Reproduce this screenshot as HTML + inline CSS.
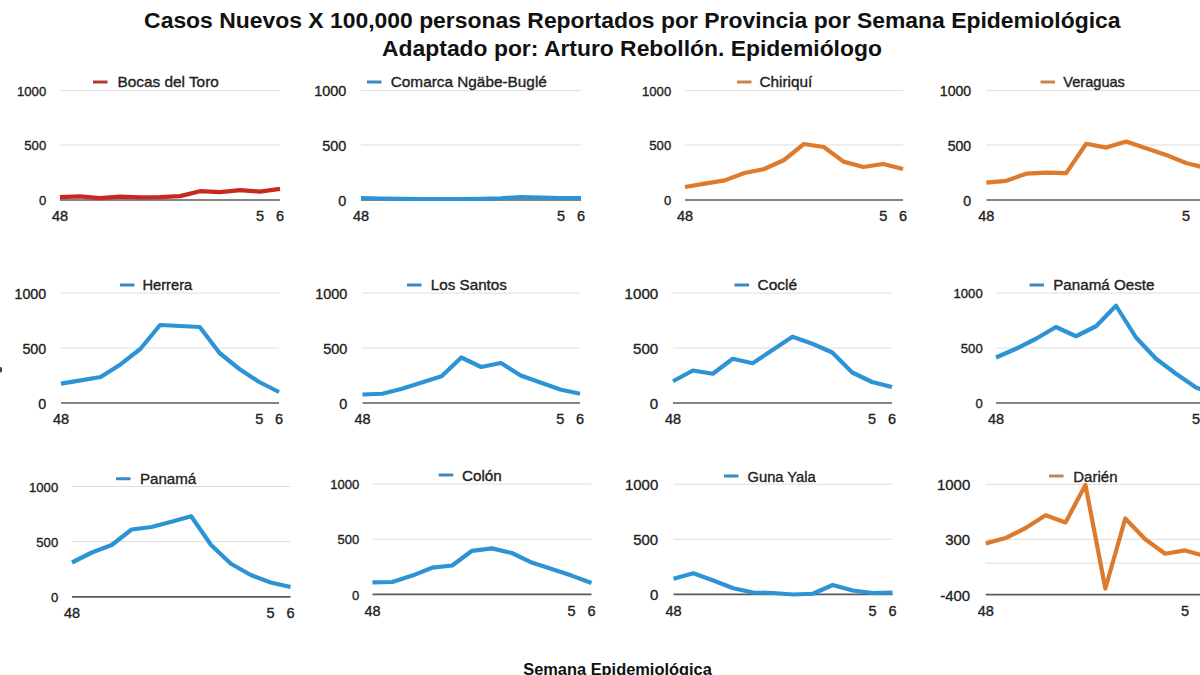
<!DOCTYPE html>
<html><head><meta charset="utf-8"><style>
html,body{margin:0;padding:0;background:#fff;width:1200px;height:675px;overflow:hidden}
svg{display:block}
text{font-family:"Liberation Sans",sans-serif}
</style></head><body>
<svg width="1200" height="675" viewBox="0 0 1200 675">
<rect width="1200" height="675" fill="#fff"/>
<g fill="#111" font-weight="bold" text-anchor="middle">
<text x="632.3" y="27.6" font-size="22.92">Casos Nuevos X 100,000 personas Reportados por Provincia por Semana Epidemiológica</text>
<text x="632" y="55.9" font-size="22.88">Adaptado por: Arturo Rebollón. Epidemiólogo</text>
<text x="617.5" y="674.6" font-size="16.4">Semana Epidemiológica</text>
</g>
<ellipse cx="0.6" cy="369.8" rx="1.6" ry="2.8" fill="#444"/>
<line x1="60" y1="90.6" x2="280" y2="90.6" stroke="#dedede" stroke-width="1"/>
<line x1="60" y1="145" x2="280" y2="145" stroke="#dedede" stroke-width="1"/>
<line x1="60" y1="200" x2="280" y2="200" stroke="#5a5a5a" stroke-width="1.7"/>
<g font-size="13.1" fill="#222" stroke="#222" stroke-width="0.35" text-anchor="end">
<text x="46.2" y="95.89">1000</text>
<text x="46.2" y="150.29">500</text>
<text x="46.2" y="205.29">0</text>
</g>
<g font-size="14.5" fill="#222" stroke="#222" stroke-width="0.35" text-anchor="middle">
<text x="60" y="221.2">48</text>
<text x="260" y="221.2">5</text>
<text x="280" y="221.2">6</text>
</g>
<polyline points="60,197.1 80,196.3 100,198.1 120,196.7 140,197.3 160,197.1 180,196.1 200,191.2 220,192.2 240,190.2 260,191.6 280,188.8" fill="none" stroke="#c7291f" stroke-width="4.2" stroke-linejoin="round" stroke-linecap="butt"/>
<line x1="93" y1="82" x2="107.5" y2="82" stroke="#b23a30" stroke-width="3"/>
<text x="117.4" y="87.1" font-size="15.38" fill="#222" stroke="#222" stroke-width="0.35">Bocas del Toro</text>
<line x1="361" y1="90.6" x2="581" y2="90.6" stroke="#dedede" stroke-width="1"/>
<line x1="361" y1="145" x2="581" y2="145" stroke="#dedede" stroke-width="1"/>
<line x1="361" y1="200" x2="581" y2="200" stroke="#5a5a5a" stroke-width="1.7"/>
<g font-size="14.4" fill="#222" stroke="#222" stroke-width="0.35" text-anchor="end">
<text x="346.2" y="96.36">1000</text>
<text x="346.2" y="150.76">500</text>
<text x="346.2" y="205.76">0</text>
</g>
<g font-size="14.5" fill="#222" stroke="#222" stroke-width="0.35" text-anchor="middle">
<text x="361" y="221.2">48</text>
<text x="561" y="221.2">5</text>
<text x="581" y="221.2">6</text>
</g>
<polyline points="361,198.2 381,198.5 401,198.8 421,199 441,199 461,199 481,198.8 501,198.3 521,197 541,197.5 561,198 581,198" fill="none" stroke="#2d93d5" stroke-width="4.2" stroke-linejoin="round" stroke-linecap="butt"/>
<line x1="367" y1="82" x2="381.5" y2="82" stroke="#3a8ac2" stroke-width="3"/>
<text x="390.75" y="87.1" font-size="15.35" fill="#222" stroke="#222" stroke-width="0.35">Comarca Ngäbe-Buglé</text>
<line x1="685" y1="90.6" x2="903" y2="90.6" stroke="#dedede" stroke-width="1"/>
<line x1="685" y1="145" x2="903" y2="145" stroke="#dedede" stroke-width="1"/>
<line x1="685" y1="200" x2="903" y2="200" stroke="#5a5a5a" stroke-width="1.7"/>
<g font-size="13.1" fill="#222" stroke="#222" stroke-width="0.35" text-anchor="end">
<text x="671.2" y="95.89">1000</text>
<text x="671.2" y="150.29">500</text>
<text x="671.2" y="205.29">0</text>
</g>
<g font-size="14.5" fill="#222" stroke="#222" stroke-width="0.35" text-anchor="middle">
<text x="685" y="221.2">48</text>
<text x="883.18" y="221.2">5</text>
<text x="903" y="221.2">6</text>
</g>
<polyline points="685,187 704.82,183.6 724.64,180.4 744.45,173 764.27,169 784.09,160 803.91,144 823.73,147 843.55,161.6 863.36,167 883.18,164 903,169" fill="none" stroke="#dd7a2c" stroke-width="4.2" stroke-linejoin="round" stroke-linecap="butt"/>
<line x1="737" y1="82" x2="751.5" y2="82" stroke="#c8844c" stroke-width="3"/>
<text x="759.5" y="87.1" font-size="15.3" fill="#222" stroke="#222" stroke-width="0.35">Chiriquí</text>
<line x1="986.3" y1="90.6" x2="1206" y2="90.6" stroke="#dedede" stroke-width="1"/>
<line x1="986.3" y1="145" x2="1206" y2="145" stroke="#dedede" stroke-width="1"/>
<line x1="986.3" y1="200" x2="1206" y2="200" stroke="#5a5a5a" stroke-width="1.7"/>
<g font-size="14.1" fill="#222" stroke="#222" stroke-width="0.35" text-anchor="end">
<text x="971.2" y="96.25">1000</text>
<text x="971.2" y="150.65">500</text>
<text x="971.2" y="205.65">0</text>
</g>
<g font-size="14.5" fill="#222" stroke="#222" stroke-width="0.35" text-anchor="middle">
<text x="986.3" y="221.2">48</text>
<text x="1186.03" y="221.2">5</text>
<text x="1206" y="221.2">6</text>
</g>
<polyline points="986.3,182.7 1006.27,180.8 1026.25,173.7 1046.22,172.6 1066.19,173.1 1086.16,143.8 1106.14,147.6 1126.11,141.5 1146.08,148.2 1166.05,154.9 1186.03,163 1206,168" fill="none" stroke="#dd7a2c" stroke-width="4.2" stroke-linejoin="round" stroke-linecap="butt"/>
<line x1="1040.5" y1="82" x2="1055" y2="82" stroke="#c8844c" stroke-width="3"/>
<text x="1063.25" y="87.1" font-size="14.6" fill="#222" stroke="#222" stroke-width="0.35">Veraguas</text>
<line x1="61" y1="293" x2="279" y2="293" stroke="#dedede" stroke-width="1"/>
<line x1="61" y1="348" x2="279" y2="348" stroke="#dedede" stroke-width="1"/>
<line x1="61" y1="403" x2="279" y2="403" stroke="#5a5a5a" stroke-width="1.7"/>
<g font-size="14.25" fill="#222" stroke="#222" stroke-width="0.35" text-anchor="end">
<text x="46.2" y="298.7">1000</text>
<text x="46.2" y="353.7">500</text>
<text x="46.2" y="408.7">0</text>
</g>
<g font-size="14.5" fill="#222" stroke="#222" stroke-width="0.35" text-anchor="middle">
<text x="61" y="424.2">48</text>
<text x="259.18" y="424.2">5</text>
<text x="279" y="424.2">6</text>
</g>
<polyline points="61,383.6 80.82,380.4 100.64,377 120.45,364.4 140.27,349 160.09,325 179.91,326 199.73,327 219.55,353 239.36,369 259.18,382 279,392" fill="none" stroke="#2d93d5" stroke-width="4.2" stroke-linejoin="round" stroke-linecap="butt"/>
<line x1="120" y1="285" x2="134.5" y2="285" stroke="#3a8ac2" stroke-width="3"/>
<text x="142.5" y="289.7" font-size="14.66" fill="#222" stroke="#222" stroke-width="0.35">Herrera</text>
<line x1="362.5" y1="293" x2="580" y2="293" stroke="#dedede" stroke-width="1"/>
<line x1="362.5" y1="348" x2="580" y2="348" stroke="#dedede" stroke-width="1"/>
<line x1="362.5" y1="403" x2="580" y2="403" stroke="#5a5a5a" stroke-width="1.7"/>
<g font-size="14.4" fill="#222" stroke="#222" stroke-width="0.35" text-anchor="end">
<text x="347.2" y="298.76">1000</text>
<text x="347.2" y="353.76">500</text>
<text x="347.2" y="408.76">0</text>
</g>
<g font-size="14.5" fill="#222" stroke="#222" stroke-width="0.35" text-anchor="middle">
<text x="362.5" y="424.2">48</text>
<text x="560.23" y="424.2">5</text>
<text x="580" y="424.2">6</text>
</g>
<polyline points="362.5,394.5 382.27,393.75 402.05,388.75 421.82,382.5 441.59,376.25 461.36,357.5 481.14,367 500.91,363 520.68,375.5 540.45,382.5 560.23,389.5 580,393.75" fill="none" stroke="#2d93d5" stroke-width="4.2" stroke-linejoin="round" stroke-linecap="butt"/>
<line x1="407" y1="285" x2="421.5" y2="285" stroke="#3a8ac2" stroke-width="3"/>
<text x="430.75" y="289.7" font-size="15.23" fill="#222" stroke="#222" stroke-width="0.35">Los Santos</text>
<line x1="673" y1="293" x2="892" y2="293" stroke="#dedede" stroke-width="1"/>
<line x1="673" y1="348" x2="892" y2="348" stroke="#dedede" stroke-width="1"/>
<line x1="673" y1="403" x2="892" y2="403" stroke="#5a5a5a" stroke-width="1.7"/>
<g font-size="15.1" fill="#222" stroke="#222" stroke-width="0.35" text-anchor="end">
<text x="658.2" y="299.01">1000</text>
<text x="658.2" y="354.01">500</text>
<text x="658.2" y="409.01">0</text>
</g>
<g font-size="14.5" fill="#222" stroke="#222" stroke-width="0.35" text-anchor="middle">
<text x="673" y="424.2">48</text>
<text x="872.09" y="424.2">5</text>
<text x="892" y="424.2">6</text>
</g>
<polyline points="673,381.25 692.91,370.5 712.82,373.75 732.73,358.75 752.64,363.25 772.55,350 792.45,336.75 812.36,343.75 832.27,352.5 852.18,372.5 872.09,382 892,387" fill="none" stroke="#2d93d5" stroke-width="4.2" stroke-linejoin="round" stroke-linecap="butt"/>
<line x1="734.5" y1="285" x2="749" y2="285" stroke="#3a8ac2" stroke-width="3"/>
<text x="757.5" y="289.7" font-size="15.53" fill="#222" stroke="#222" stroke-width="0.35">Coclé</text>
<line x1="996" y1="293" x2="1216" y2="293" stroke="#dedede" stroke-width="1"/>
<line x1="996" y1="348" x2="1216" y2="348" stroke="#dedede" stroke-width="1"/>
<line x1="996" y1="403" x2="1216" y2="403" stroke="#5a5a5a" stroke-width="1.7"/>
<g font-size="13.1" fill="#222" stroke="#222" stroke-width="0.35" text-anchor="end">
<text x="982.7" y="298.29">1000</text>
<text x="982.7" y="353.29">500</text>
<text x="982.7" y="408.29">0</text>
</g>
<g font-size="14.5" fill="#222" stroke="#222" stroke-width="0.35" text-anchor="middle">
<text x="996" y="424.2">48</text>
<text x="1196" y="424.2">5</text>
<text x="1216" y="424.2">6</text>
</g>
<polyline points="996,357.5 1016,348.75 1036,338.75 1056,327 1076,336.25 1096,326.25 1116,305.75 1136,337.5 1156,358.75 1176,373.75 1196,387.5 1216,395" fill="none" stroke="#2d93d5" stroke-width="4.2" stroke-linejoin="round" stroke-linecap="butt"/>
<line x1="1029.5" y1="285" x2="1044" y2="285" stroke="#3a8ac2" stroke-width="3"/>
<text x="1053.25" y="289.7" font-size="15.17" fill="#222" stroke="#222" stroke-width="0.35">Panamá Oeste</text>
<line x1="72" y1="486.5" x2="290.5" y2="486.5" stroke="#dedede" stroke-width="1"/>
<line x1="72" y1="541.6" x2="290.5" y2="541.6" stroke="#dedede" stroke-width="1"/>
<line x1="72" y1="596.8" x2="290.5" y2="596.8" stroke="#5a5a5a" stroke-width="1.7"/>
<g font-size="13.1" fill="#222" stroke="#222" stroke-width="0.35" text-anchor="end">
<text x="58.2" y="491.79">1000</text>
<text x="58.2" y="546.89">500</text>
<text x="58.2" y="602.09">0</text>
</g>
<g font-size="14.5" fill="#222" stroke="#222" stroke-width="0.35" text-anchor="middle">
<text x="72" y="618">48</text>
<text x="270.64" y="618">5</text>
<text x="290.5" y="618">6</text>
</g>
<polyline points="72,562.5 91.86,552.5 111.73,545 131.59,529.5 151.45,527 171.32,521.75 191.18,516.25 211.05,545 230.91,563.75 250.77,575 270.64,582.5 290.5,587" fill="none" stroke="#2d93d5" stroke-width="4.2" stroke-linejoin="round" stroke-linecap="butt"/>
<line x1="116" y1="478.75" x2="130.5" y2="478.75" stroke="#3a8ac2" stroke-width="3"/>
<text x="140" y="484.25" font-size="15.1" fill="#222" stroke="#222" stroke-width="0.35">Panamá</text>
<line x1="372.5" y1="484" x2="591.5" y2="484" stroke="#dedede" stroke-width="1"/>
<line x1="372.5" y1="539.2" x2="591.5" y2="539.2" stroke="#dedede" stroke-width="1"/>
<line x1="372.5" y1="594.4" x2="591.5" y2="594.4" stroke="#5a5a5a" stroke-width="1.7"/>
<g font-size="13.05" fill="#222" stroke="#222" stroke-width="0.35" text-anchor="end">
<text x="359.2" y="489.27">1000</text>
<text x="359.2" y="544.47">500</text>
<text x="359.2" y="599.67">0</text>
</g>
<g font-size="14.5" fill="#222" stroke="#222" stroke-width="0.35" text-anchor="middle">
<text x="372.5" y="615.6">48</text>
<text x="571.59" y="615.6">5</text>
<text x="591.5" y="615.6">6</text>
</g>
<polyline points="372.5,582.4 392.41,582 412.32,575.6 432.23,567.7 452.14,565.5 472.05,550.8 491.95,548.4 511.86,553 531.77,562.6 551.68,569 571.59,575.6 591.5,583" fill="none" stroke="#2d93d5" stroke-width="4.2" stroke-linejoin="round" stroke-linecap="butt"/>
<line x1="438.75" y1="475" x2="453.25" y2="475" stroke="#3a8ac2" stroke-width="3"/>
<text x="462" y="480.5" font-size="15.2" fill="#222" stroke="#222" stroke-width="0.35">Colón</text>
<line x1="673.5" y1="484.2" x2="892.5" y2="484.2" stroke="#dedede" stroke-width="1"/>
<line x1="673.5" y1="539.2" x2="892.5" y2="539.2" stroke="#dedede" stroke-width="1"/>
<line x1="673.5" y1="594.4" x2="892.5" y2="594.4" stroke="#5a5a5a" stroke-width="1.7"/>
<g font-size="14.95" fill="#222" stroke="#222" stroke-width="0.35" text-anchor="end">
<text x="658.2" y="490.15">1000</text>
<text x="658.2" y="545.15">500</text>
<text x="658.2" y="600.35">0</text>
</g>
<g font-size="14.5" fill="#222" stroke="#222" stroke-width="0.35" text-anchor="middle">
<text x="673.5" y="615.6">48</text>
<text x="872.59" y="615.6">5</text>
<text x="892.5" y="615.6">6</text>
</g>
<polyline points="673.5,578.75 693.41,573.25 713.32,580.5 733.23,588.25 753.14,592.5 773.05,593 792.95,594.5 812.86,593.75 832.77,585 852.68,590.5 872.59,593 892.5,592.5" fill="none" stroke="#2d93d5" stroke-width="4.2" stroke-linejoin="round" stroke-linecap="butt"/>
<line x1="724" y1="476" x2="738.5" y2="476" stroke="#3a8ac2" stroke-width="3"/>
<text x="747.5" y="481.5" font-size="14.72" fill="#222" stroke="#222" stroke-width="0.35">Guna Yala</text>
<line x1="985.8" y1="484.4" x2="1205" y2="484.4" stroke="#dedede" stroke-width="1"/>
<line x1="985.8" y1="539.4" x2="1205" y2="539.4" stroke="#dedede" stroke-width="1"/>
<line x1="985.8" y1="563.2" x2="1205" y2="563.2" stroke="#dedede" stroke-width="1"/>
<line x1="985.8" y1="594.6" x2="1205" y2="594.6" stroke="#5a5a5a" stroke-width="1.7"/>
<g font-size="14.95" fill="#222" stroke="#222" stroke-width="0.35" text-anchor="end">
<text x="970.2" y="490.35">1000</text>
<text x="970.2" y="545.35">300</text>
<text x="970.2" y="600.55">-400</text>
</g>
<g font-size="14.5" fill="#222" stroke="#222" stroke-width="0.35" text-anchor="middle">
<text x="985.8" y="615.8">48</text>
<text x="1185.07" y="615.8">5</text>
<text x="1205" y="615.8">6</text>
</g>
<polyline points="985.8,543.4 1005.73,538 1025.65,528 1045.58,515.3 1065.51,522.4 1085.44,485 1105.36,588.5 1125.29,518.5 1145.22,539.2 1165.15,553.7 1185.07,550.4 1205,556" fill="none" stroke="#dd7a2c" stroke-width="4.2" stroke-linejoin="round" stroke-linecap="butt"/>
<line x1="1049" y1="476" x2="1063.5" y2="476" stroke="#c8844c" stroke-width="3"/>
<text x="1073.25" y="481.5" font-size="15.03" fill="#222" stroke="#222" stroke-width="0.35">Darién</text>
</svg>
</body></html>
